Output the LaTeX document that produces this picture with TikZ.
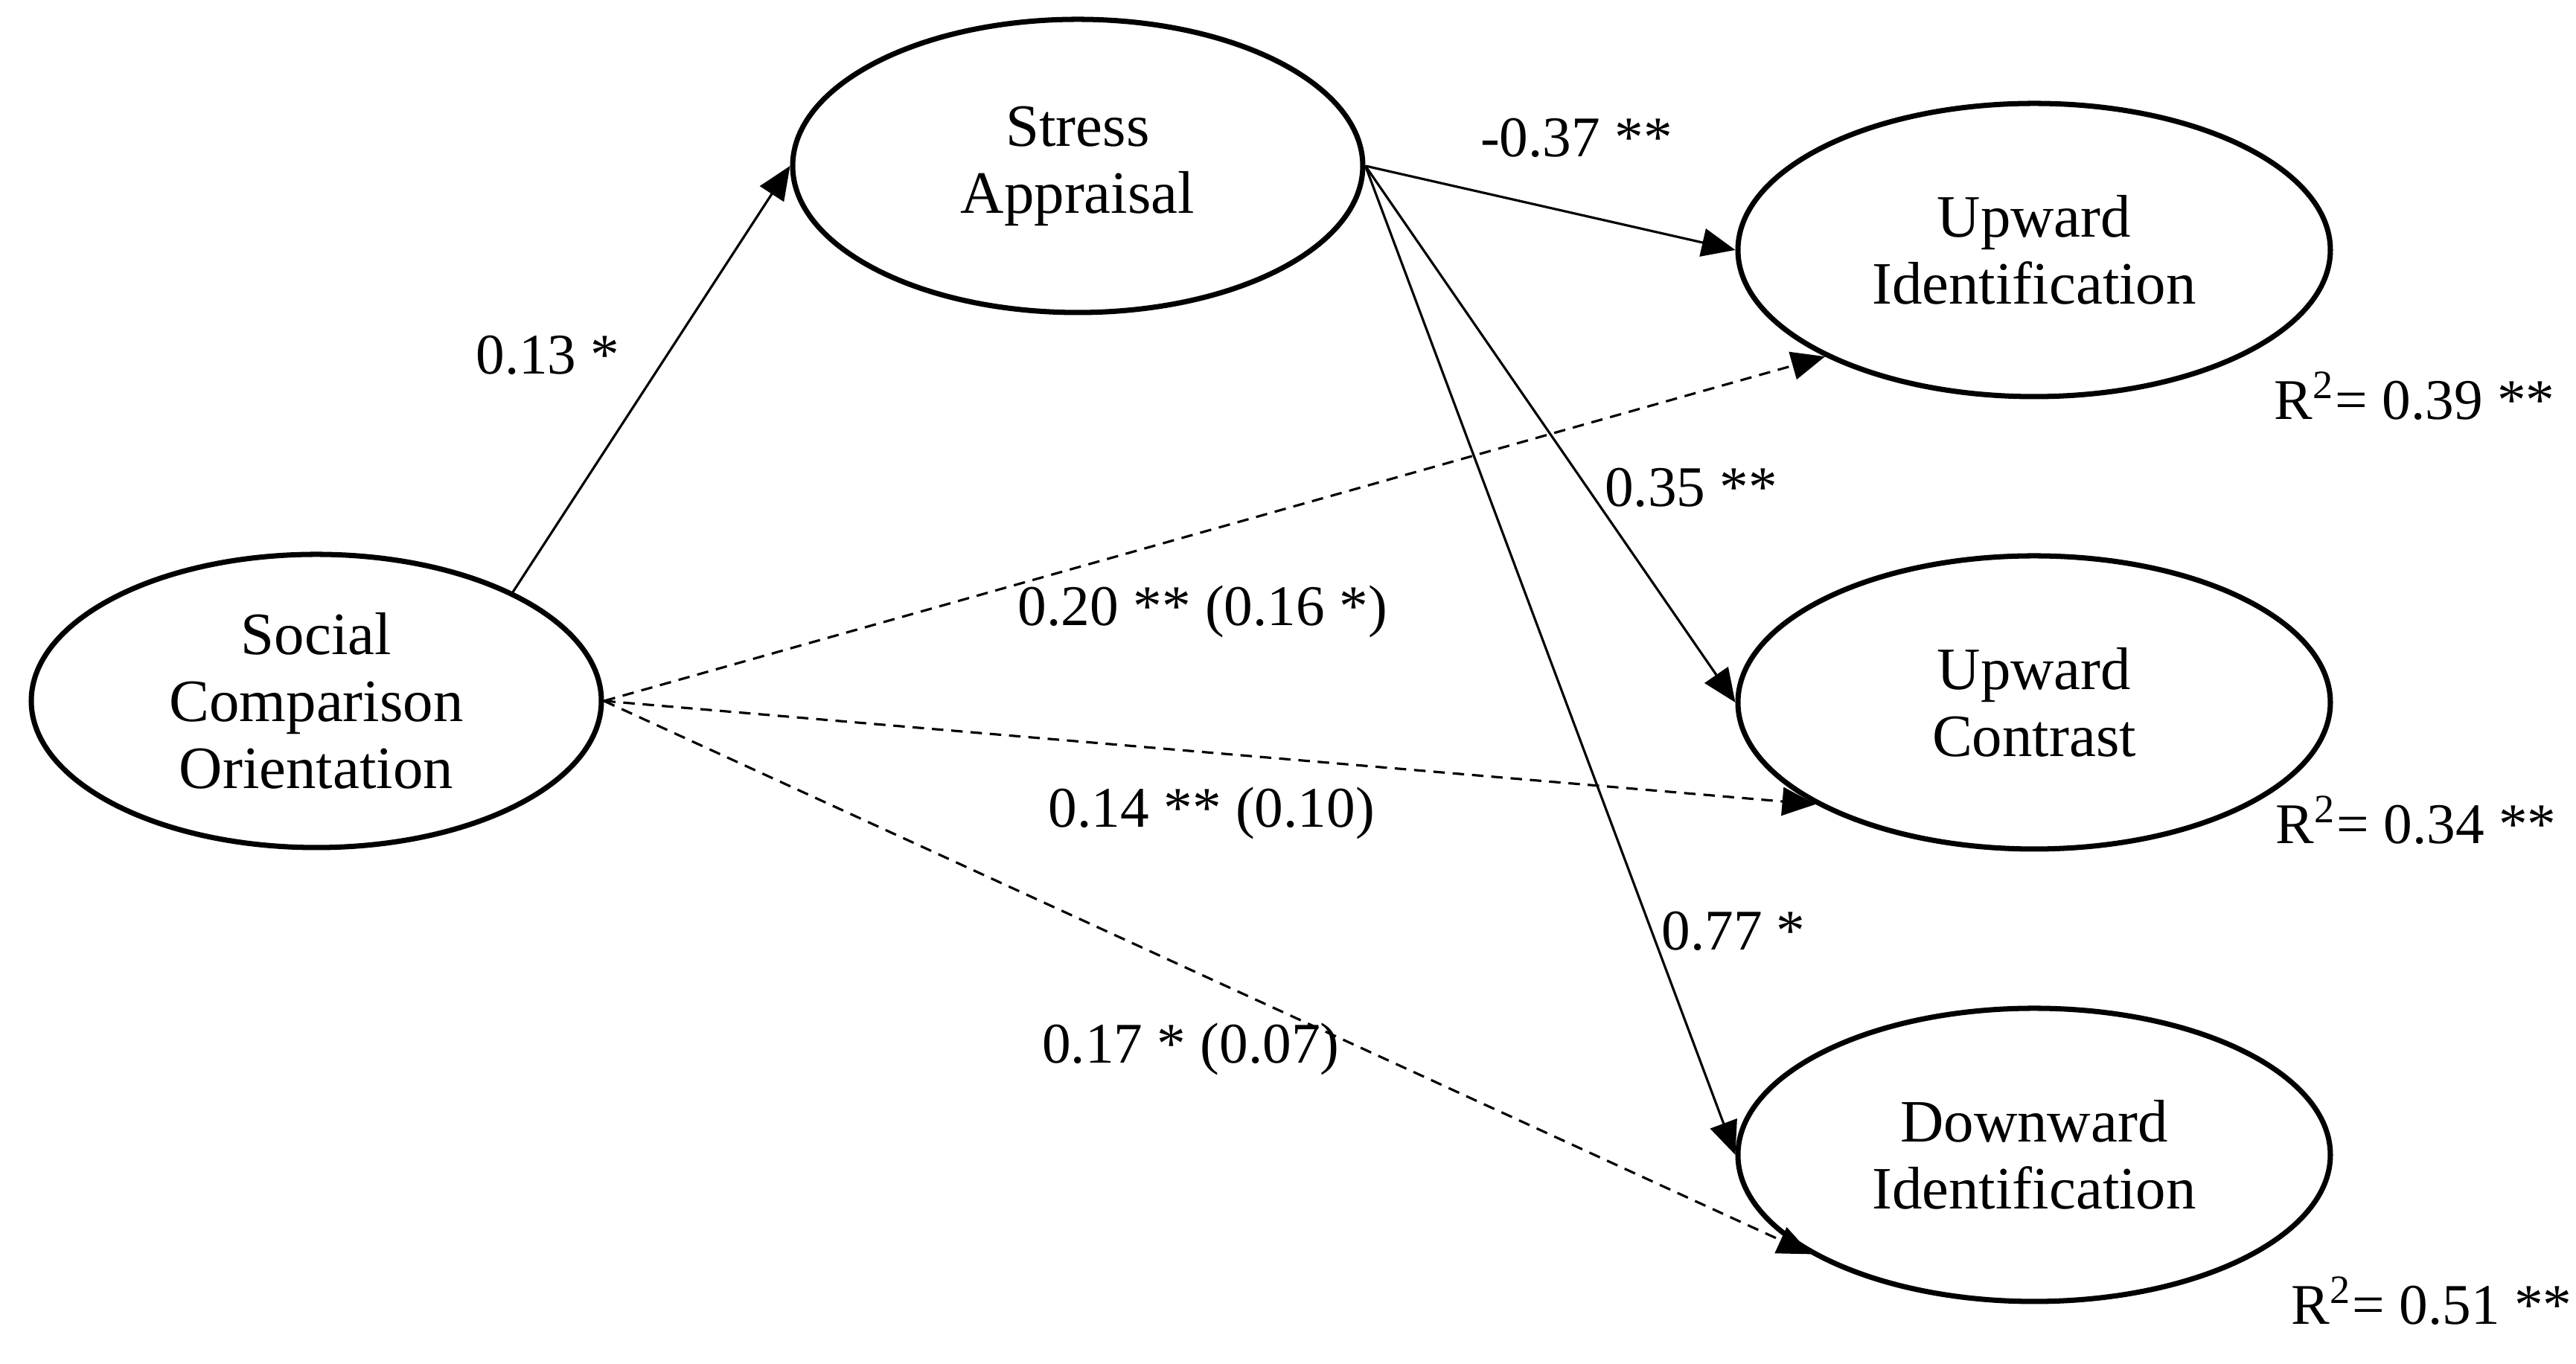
\documentclass[tikz,border=0pt]{standalone}
\usepackage{fontspec}
\setmainfont{Liberation Serif}
\usetikzlibrary{shapes.geometric,arrows.meta,positioning}

\begin{document}
\begin{tikzpicture}[node distance=3.04cm, >={Triangle[length=6.4pt,width=5.4pt]}]
    % Define styles
    \tikzstyle{latent} = [ellipse, draw, line width=1pt, inner sep=0pt, minimum width=3.83cm, minimum height=1.97cm, align=center, font=\fontsize{11.5}{12.8}\selectfont]
    \tikzstyle{outcome} = [latent, minimum width=3.98cm]
    \tikzstyle{pathline} = [line width=0.45pt, ->]
    \tikzstyle{directline} = [pathline, dash pattern=on 2.2pt off 1.5pt]
    \tikzstyle{coef} = [font=\fontsize{11}{12.8}\selectfont, inner sep=0pt]

    \useasboundingbox (0,0) rectangle (17.305,-9.165);

    % Nodes
    \node [latent] (sco) at (2.125,-4.71) {Social\\Comparison\\Orientation};
    \node [latent] (stress) at (7.24,-1.115) {Stress\\Appraisal};
    \node [outcome] (upid) at (13.665,-1.68) {Upward\\Identification};
    \node [outcome, below of=upid] (upcon) {Upward\\Contrast};
    \node [outcome, below of=upcon] (downid) {Downward\\Identification};

    % Arrows
    \draw [pathline] (sco.29) -- (stress.west);
    \draw [pathline] (stress.east) -- (upid.west);
    \draw [pathline] (stress.east) -- (upcon.west);
    \draw [pathline] (stress.east) -- (downid.west);

    % Direct effects (dashed)
    \draw [directline] (sco.east) -- (upid.207);
    \draw [directline] (sco.east) -- (upcon.205);
    \draw [directline] (sco.east) -- (downid.204);

    % Coefficients
    \node [coef] (c13) at (3.68,-2.385) {0.13 *};
    \node [coef] (c37) at (10.59,-0.925) {-0.37 **};
    \node [coef] (c35) at (11.36,-3.275) {0.35 **};
    \node [coef] (c77) at (11.645,-6.255) {0.77 *};
    \node [coef] (c20) at (8.08,-4.11) {0.20 ** (0.16 *)};
    \node [coef] (c14) at (8.14,-5.465) {0.14 ** (0.10)};
    \node [coef] (c17) at (8.0,-7.05) {0.17 * (0.07)};

    % Explained variance
    \node [coef] (r39) at (16.22,-2.66) {R\textsuperscript{2}= 0.39 **};
    \node [coef] (r34) at (16.23,-5.51) {R\textsuperscript{2}= 0.34 **};
    \node [coef] (r51) at (16.335,-8.74) {R\textsuperscript{2}= 0.51 **};
\end{tikzpicture}
\end{document}
